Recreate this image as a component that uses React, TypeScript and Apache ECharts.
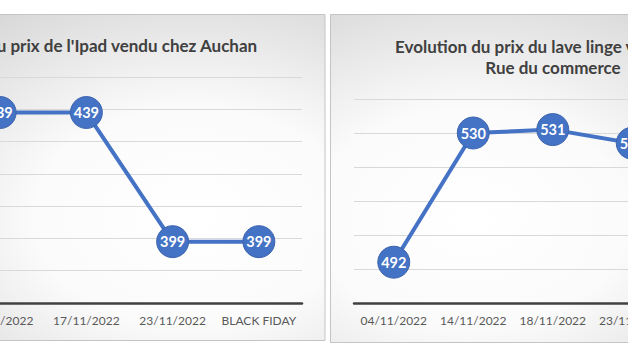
import React, { useEffect, useRef } from "react";
import * as echarts from "echarts";

const leftCategories = ["10/11/2022", "17/11/2022", "23/11/2022", "BLACK FIDAY"];
const leftValues = [439, 439, 399, 399];
const rightCategories = ["04/11/2022", "14/11/2022", "18/11/2022", "23/11/2022"];
const rightValues = [492, 530, 531, 527];
const leftTitle = "Evolution du prix de l'Ipad vendu chez Auchan";
const rightTitle = "Evolution du prix du lave linge vendu chez\nRue du commerce";

const OFF = 200;
const FONT = "Lato, 'Open Sans', sans-serif";

export default function App() {
  const ref = useRef<HTMLDivElement>(null);
  useEffect(() => {
    if (!ref.current) return;
    const chart = echarts.init(ref.current, undefined, { renderer: "svg" });
    const panelFill = (cx: number) => ({
      type: "radial",
      x: cx,
      y: 0.62,
      r: 0.95,
      colorStops: [
        { offset: 0, color: "#ffffff" },
        { offset: 0.35, color: "#fbfbfb" },
        { offset: 1, color: "#c6c6c6" },
      ],
    });
    const xAxisCommon = {
      type: "category",
      boundaryGap: true,
      axisLine: { show: true, lineStyle: { color: "#404040", width: 2.5 } },
      axisTick: { show: false },
      axisLabel: {
        color: "#595959",
        fontSize: 12,
        fontFamily: FONT,
        margin: 11,
        interval: 0,
      },
      splitLine: { show: false },
    };
    const yAxisCommon = {
      type: "value",
      interval: 10,
      axisLine: { show: false },
      axisTick: { show: false },
      axisLabel: { show: false },
      splitLine: { show: true, lineStyle: { color: "#d9d9d9", width: 1 } },
    };
    const seriesCommon = {
      type: "line",
      symbol: "circle",
      symbolSize: 32,
      lineStyle: { color: "#4472C4", width: 4 },
      itemStyle: { color: "#4472C4", borderColor: "#3b63ad", borderWidth: 1 },
      label: {
        show: true,
        position: "inside",
        color: "#ffffff",
        fontWeight: "bold",
        fontSize: 14.5,
        fontFamily: FONT,
      },
      z: 5,
    };
    chart.setOption({
      animation: false,
      backgroundColor: "#ffffff",
      graphic: [
        {
          type: "rect",
          z: -10,
          shape: { x: OFF - 150, y: 14.5, width: 475, height: 326 },
          style: { fill: panelFill(0.72) as any, stroke: "#c4c4c4", lineWidth: 1 },
        },
        {
          type: "rect",
          z: -10,
          shape: { x: OFF + 330.5, y: 14.5, width: 470, height: 328 },
          style: { fill: panelFill(0.3) as any, stroke: "#c4c4c4", lineWidth: 1 },
        },
      ],
      title: [
        {
          text: leftTitle,
          left: OFF + 79,
          top: 32,
          textAlign: "center",
          textStyle: { color: "#404040", fontSize: 17, fontWeight: "bold", fontFamily: FONT },
        },
        {
          text: rightTitle,
          left: OFF + 548,
          top: 31,
          textAlign: "center",
          textStyle: {
            color: "#404040",
            fontSize: 17,
            fontWeight: "bold",
            fontFamily: FONT,
            lineHeight: 21,
          },
        },
      ],
      grid: [
        { left: OFF - 43, width: 345, top: 77, height: 226 },
        { left: OFF + 354, width: 318, top: 99, height: 204 },
      ],
      xAxis: [
        { ...xAxisCommon, gridIndex: 0, data: leftCategories },
        { ...xAxisCommon, gridIndex: 1, data: rightCategories },
      ],
      yAxis: [
        { ...yAxisCommon, gridIndex: 0, min: 380, max: 450 },
        { ...yAxisCommon, gridIndex: 1, min: 480, max: 540 },
      ],
      series: [
        { ...seriesCommon, xAxisIndex: 0, yAxisIndex: 0, data: leftValues },
        { ...seriesCommon, xAxisIndex: 1, yAxisIndex: 1, data: rightValues },
      ],
    } as any);
    return () => chart.dispose();
  }, []);
  return (
    <div
      style={{
        position: "fixed",
        left: 0,
        top: 0,
        width: 628,
        height: 353,
        overflow: "hidden",
        background: "#ffffff",
      }}
    >
      <div
        ref={ref}
        style={{ position: "absolute", left: -OFF, top: 0, width: 1100, height: 353 }}
      />
    </div>
  );
}
